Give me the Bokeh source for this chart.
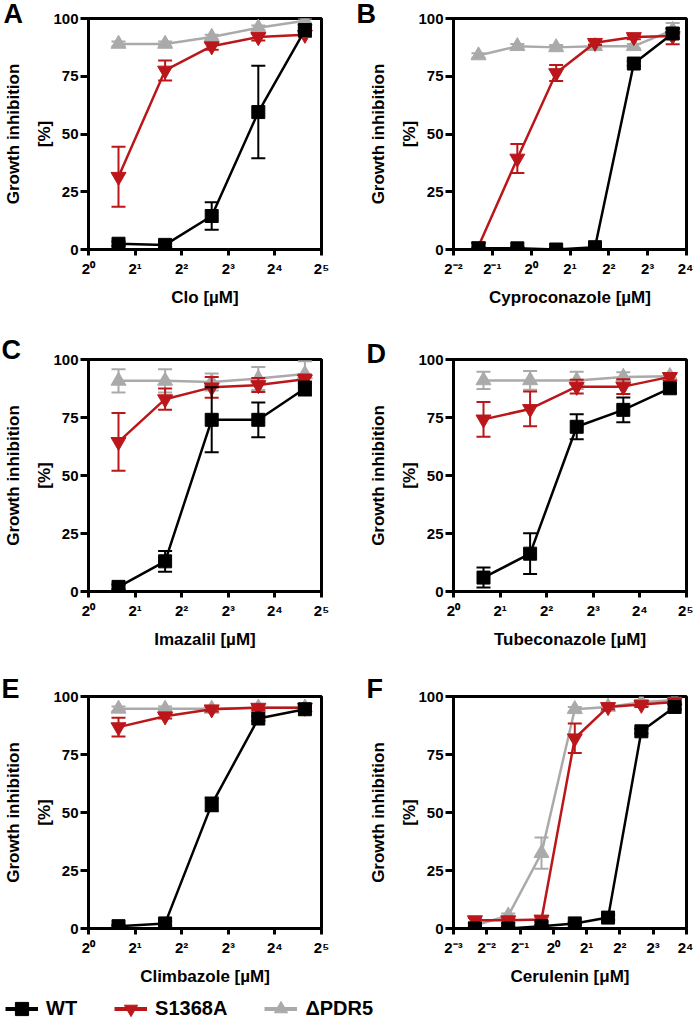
from bokeh.plotting import figure
from bokeh.layouts import column, row
from bokeh.models import (Range1d, FixedTicker, CustomJSTickFormatter, Legend,
                          LegendItem, Title)
from bokeh.embed import file_html
from bokeh.resources import INLINE

FONT = "Liberation Sans"
BLACK = "#000000"
RED = "#BB171B"
GREY = "#AAAAAA"

# Concentrations (µM)
conc_5 = [1.5625, 3.125, 6.25, 12.5, 25.0]
conc_6 = [0.390625, 0.78125, 1.5625, 3.125, 6.25, 12.5]
conc_7 = [0.1953125, 0.390625, 0.78125, 1.5625, 3.125, 6.25, 12.5]

# Panel A - Clo
a_wt = [2.5, 2.0, 14.5, 59.5, 95.0]
a_wt_err = [1.0, 1.0, 6.0, 20.0, 1.0]
a_s = [31.5, 77.5, 88.0, 92.0, 93.0]
a_s_err = [13.0, 4.3, 1.5, 1.5, 1.0]
a_d = [89.0, 89.0, 92.0, 96.0, 99.0]
a_d_err = [1.0, 1.0, 1.0, 1.0, 1.0]

# Panel B - Cyproconazole
b_wt = [0.5, 0.5, 0.0, 1.0, 80.5, 93.5]
b_wt_err = [0.5, 0.5, 0.5, 0.5, 1.0, 2.0]
b_s = [1.4, 39.4, 76.4, 89.5, 92.0, 92.4]
b_s_err = [1.0, 6.3, 3.5, 1.0, 1.0, 3.5]
b_d = [84.0, 88.0, 87.5, 88.0, 88.0, 95.0]
b_d_err = [1.0, 1.0, 1.0, 1.0, 1.0, 3.0]

# Panel C - Imazalil
c_wt = [2.0, 13.0, 74.0, 74.0, 87.5]
c_wt_err = [1.0, 4.5, 14.0, 7.5, 3.0]
c_s = [64.5, 82.9, 88.0, 89.0, 91.5]
c_s_err = [12.4, 4.6, 4.5, 3.0, 2.0]
c_d = [90.8, 90.8, 90.3, 91.8, 93.7]
c_d_err = [5.0, 5.0, 3.7, 5.0, 5.5]

# Panel D - Tubeconazole
d_wt = [6.0, 16.3, 71.0, 78.3, 87.6]
d_wt_err = [4.3, 8.8, 5.4, 5.3, 2.0]
d_s = [74.2, 78.7, 88.3, 88.3, 92.5]
d_s_err = [7.5, 7.5, 3.0, 3.2, 1.5]
d_d = [91.0, 91.0, 91.0, 92.5, 92.8]
d_d_err = [3.7, 4.0, 3.7, 2.0, 1.0]

# Panel E - Climbazole
e_wt = [1.0, 2.2, 53.5, 90.5, 94.5]
e_wt_err = [0.5, 1.0, 3.0, 1.0, 1.0]
e_s = [86.8, 91.5, 94.5, 95.2, 95.2]
e_s_err = [4.0, 1.0, 1.0, 1.0, 1.0]
e_d = [94.7, 94.7, 94.7, 95.2, 95.2]
e_d_err = [1.0, 1.0, 1.0, 1.0, 1.0]

# Panel F - Cerulenin
f_wt = [0.0, 0.0, 1.0, 2.2, 4.7, 85.0, 95.5]
f_wt_err = [0.5, 0.5, 0.5, 0.5, 1.0, 1.0, 1.0]
f_s = [3.6, 3.6, 3.9, 82.0, 95.5, 96.5, 97.6]
f_s_err = [1.0, 1.0, 1.0, 6.4, 1.0, 1.0, 1.0]
f_d = [1.4, 5.5, 32.5, 94.5, 95.5, 97.5, 98.5]
f_d_err = [1.0, 1.0, 6.7, 1.0, 1.0, 1.0, 1.0]

y_ticks = [0, 25, 50, 75, 100]
series_names = ["WT", "S1368A", "\u0394PDR5"]

SUP_JS = """
const sup = {'-':'\u207b','0':'\u2070','1':'\u00b9','2':'\u00b2','3':'\u00b3','4':'\u2074','5':'\u2075'};
const e = Math.round(Math.log2(tick));
return '2' + String(e).split('').map(c => sup[c]).join('');
"""


def make_panel(letter, letter_off, letter_standoff, xlabel, conc, exp_lo, exp_hi, series,
               width, height, borders):
    L, R, T, B = borders
    p = figure(width=width, height=height, x_axis_type="log",
               x_range=Range1d(2.0 ** exp_lo, 2.0 ** exp_hi),
               y_range=Range1d(0, 100),
               output_backend="svg", toolbar_location=None,
               min_border_left=L, min_border_right=R,
               min_border_top=T, min_border_bottom=B)
    p.background_fill_color = "white"
    p.border_fill_color = "white"
    p.outline_line_color = "black"
    p.outline_line_width = 3
    p.grid.visible = False

    p.xaxis.ticker = FixedTicker(ticks=[2.0 ** k for k in range(exp_lo, exp_hi + 1)])
    p.xaxis.formatter = CustomJSTickFormatter(code=SUP_JS)
    p.yaxis.ticker = FixedTicker(ticks=y_ticks)

    for ax in [p.xaxis[0], p.yaxis[0]]:
        ax.axis_line_width = 3
        ax.major_tick_line_width = 3
        ax.major_tick_in = 0
        ax.minor_tick_line_color = None
        ax.major_label_text_font = FONT
        ax.major_label_text_font_style = "bold"
        ax.major_label_text_font_size = "15px"
        ax.major_label_text_color = "black"
        ax.axis_label_text_font = FONT
        ax.axis_label_text_font_style = "bold"
        ax.axis_label_text_font_size = "17px"
        ax.axis_label_text_color = "black"
    p.xaxis.major_tick_out = 6
    p.xaxis.major_label_standoff = 4
    p.xaxis.axis_label_standoff = 8
    p.yaxis.major_tick_out = 8
    p.yaxis.major_label_standoff = 2
    p.yaxis.axis_label_standoff = -4
    p.yaxis.axis_label_text_line_height = 1.65
    p.xaxis.axis_label = xlabel
    p.yaxis.axis_label = "Growth inhibition\n[%]"

    for vals, errs, color, marker, msize in series:
        lo = [v - e for v, e in zip(vals, errs)]
        hi = [v + e for v, e in zip(vals, errs)]
        p.line(conc, vals, line_color=color, line_width=2.5)
        p.segment(x0=conc, y0=lo, x1=conc, y1=hi, line_color=color, line_width=2)
        p.scatter(conc, hi, marker="dash", size=14, line_color=color, line_width=2)
        p.scatter(conc, lo, marker="dash", size=14, line_color=color, line_width=2)
        p.scatter(conc, vals, marker=marker, size=msize, fill_color=color,
                  line_color=color, line_width=1)

    # panel letter as a left-aligned title pulled down next to the frame corner
    p.title = Title(text=letter, align="left", offset=letter_off, standoff=letter_standoff,
                    text_font=FONT, text_font_style="bold", text_font_size="27px",
                    text_color="black")
    return p


def trio(wt, wt_err, s, s_err, d, d_err):
    return [(d, d_err, GREY, "triangle", 15),
            (s, s_err, RED, "inverted_triangle", 15),
            (wt, wt_err, BLACK, "square", 13)]


pA = make_panel("A", -85, -21, "Clo [\u00b5M]", conc_5, 0, 5,
                trio(a_wt, a_wt_err, a_s, a_s_err, a_d, a_d_err),
                346, 330, (88, 25, 18, 81))
pB = make_panel("B", -97, -21, "Cyproconazole [\u00b5M]", conc_6, -2, 4,
                trio(b_wt, b_wt_err, b_s, b_s_err, b_d, b_d_err),
                347, 330, (107, 7, 18, 81))
pC = make_panel("C", -87, -10, "Imazalil [\u00b5M]", conc_5, 0, 5,
                trio(c_wt, c_wt_err, c_s, c_s_err, c_d, c_d_err),
                346, 330, (88, 25, 29, 69))
pD = make_panel("D", -87, -18, "Tubeconazole [\u00b5M]", conc_5, 0, 5,
                trio(d_wt, d_wt_err, d_s, d_s_err, d_d, d_d_err),
                347, 330, (107, 7, 29, 69))
pE = make_panel("E", -87, -15, "Climbazole [\u00b5M]", conc_5, 0, 5,
                trio(e_wt, e_wt_err, e_s, e_s_err, e_d, e_d_err),
                346, 330, (88, 25, 36, 62))
pF = make_panel("F", -87, -15, "Cerulenin [\u03bcM]", conc_7, -3, 4,
                trio(f_wt, f_wt_err, f_s, f_s_err, f_d, f_d_err),
                347, 330, (107, 7, 36, 62))

# Legend strip (proxy renderers hold a single NaN point, so nothing is drawn in the frame)
LEG_H = 32
leg = figure(width=693, height=LEG_H, x_range=Range1d(0, 1), y_range=Range1d(0, 1),
             output_backend="svg", toolbar_location=None,
             x_axis_location=None, y_axis_location=None,
             min_border=0)
leg.outline_line_color = None
leg.grid.visible = False
nan = float("nan")
items = []
for name, color, marker, msize in [(series_names[0], BLACK, "square", 13),
                                   (series_names[1], RED, "inverted_triangle", 15),
                                   (series_names[2], GREY, "triangle", 15)]:
    lr = leg.line([nan], [nan], line_color=color, line_width=4)
    sr = leg.scatter([nan], [nan], marker=marker, size=msize, fill_color=color, line_color=color)
    items.append(LegendItem(label=name, renderers=[lr, sr]))
legend = Legend(items=items, orientation="horizontal", location=(5, -3),
                glyph_width=33, glyph_height=33, label_standoff=8, spacing=37,
                padding=0, margin=0, border_line_color=None,
                background_fill_alpha=0,
                label_text_font=FONT, label_text_font_style="bold",
                label_text_font_size="20px", label_text_color="black")
leg.add_layout(legend, "center")

layout = column(row(pA, pB), row(pC, pD), row(pE, pF), leg)
open("out.html", "w").write(file_html(layout, INLINE))
